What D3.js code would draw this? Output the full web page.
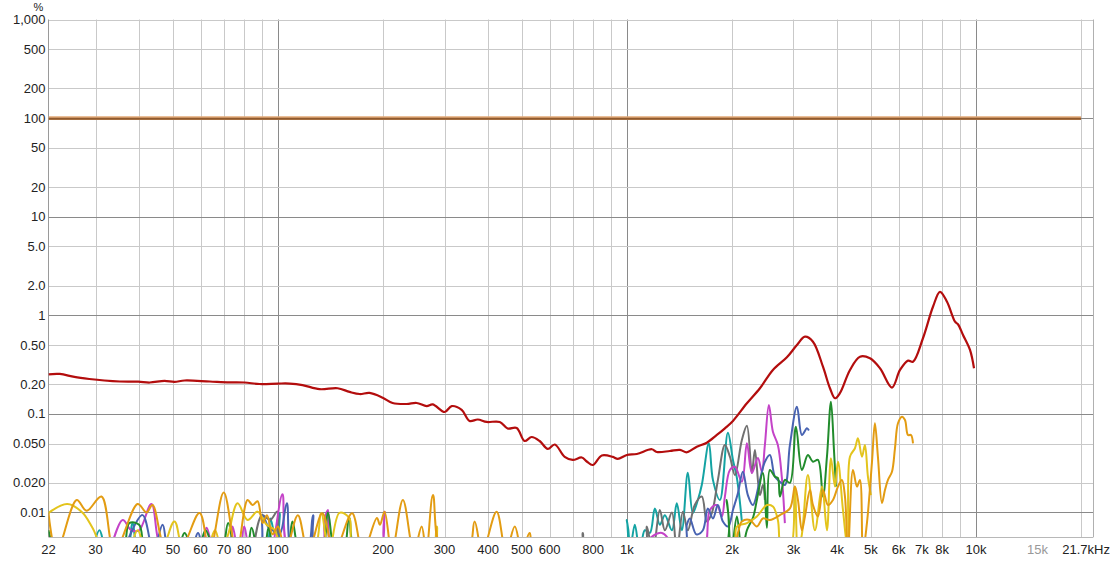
<!DOCTYPE html>
<html><head><meta charset="utf-8">
<script src="https://cdn.jsdelivr.net/npm/d3@7"></script>
<style>
html,body{margin:0;padding:0;background:#fff;}
svg{display:block;font-family:"Liberation Sans",Arial,Helvetica,sans-serif;}
</style></head>
<body><svg id="c" width="1117" height="562"></svg>
<script>
// ---- data ----
const xTickValues = [22,30,40,50,60,70,80,100,200,300,400,500,600,800,1000,2000,3000,4000,5000,6000,7000,8000,10000,15000,21700];
const xTickLabels = ["22","30","40","50","60","70","80","100","200","300","400","500","600","800","1k","2k","3k","4k","5k","6k","7k","8k","10k","15k","21.7kHz"];
const yTickValues = [1000,500,200,100,50,20,10,5,2,1,0.5,0.2,0.1,0.05,0.02,0.01];
const yTickLabels = ["1,000","500","200","100","50","20","10","5.0","2.0","1","0.50","0.20","0.1","0.050","0.020","0.01"];

const fundamental = [[22,100],[20000,100]];

const thd = [[22,0.252],[23.7,0.254],[26.1,0.237],[28.8,0.226],[31.8,0.218],[35.2,0.213],[39.8,0.212],[42.9,0.208],[47.3,0.216],[50.5,0.211],[54,0.218],[63.7,0.213],[72.6,0.209],[80.2,0.208],[88.5,0.201],[100,0.203],[108,0.203],[117.6,0.196],[131.6,0.178],[148.2,0.182],[160.4,0.167],[171.4,0.159],[183,0.163],[199.5,0.146],[213,0.129],[233.8,0.126],[249.7,0.129],[266.7,0.120],[277.5,0.125],[300.4,0.1045],[314.6,0.120],[336,0.1096],[354,0.0848],[373.6,0.0877],[396.3,0.0828],[431.9,0.0828],[455,0.0711],[483,0.0719],[509,0.0531],[533,0.0583],[562,0.0531],[593,0.0441],[621,0.0489],[663,0.0366],[699,0.0341],[742,0.0361],[767,0.0329],[798,0.0303],[847,0.0379],[911,0.0366],[941,0.0349],[999,0.0383],[1067,0.0392],[1178,0.0438],[1217,0.0411],[1327,0.0420],[1418,0.0431],[1485,0.0408],[1585,0.0465],[1693,0.0510],[1809,0.0611],[1908,0.0714],[2012,0.0848],[2206,0.128],[2404,0.182],[2619,0.279],[2872,0.375],[3069,0.500],[3236,0.607],[3411,0.540],[3644,0.301],[3816,0.182],[3945,0.144],[4074,0.162],[4355,0.279],[4652,0.380],[4969,0.366],[5309,0.290],[5744,0.185],[6058,0.279],[6389,0.347],[6600,0.338],[7048,0.585],[7530,1.22],[7887,1.73],[8260,1.37],[8710,0.861],[8880,0.811],[9181,0.631],[9613,0.445],[9871,0.290]];

const h3 = [[22,0.0099],[23.2,0.004],[26.5,0.0134],[28.3,0.0104],[31.2,0.0145],[34,0.004],[39.6,0.0122],[42,0.0100],[43.7,0.0119],[47.9,0.004],[52.2,0.004],[59.6,0.0099],[63.7,0.004],[69.9,0.0159],[76.1,0.004],[81.8,0.0134],[84.5,0.0119],[87.4,0.0130],[90.3,0.0078],[93,0.0094],[96.5,0.0060],[100,0.0072],[105,0.004],[114,0.0094],[122,0.004],[134,0.0098],[145,0.004],[163,0.0098],[175,0.004],[192,0.0088],[196,0.0075],[202,0.0102],[212,0.004],[228,0.0134],[245,0.004],[258,0.0072],[266,0.004],[278,0.0150],[295,0.004],[350,0.004],[366,0.0081],[385,0.004],[423,0.0102],[450,0.004],[477,0.0072],[500,0.004],[526,0.0062],[545,0.004],[2000,0.004],[2079,0.0062],[2134,0.0081],[2250,0.0084],[2356,0.0072],[2451,0.0087],[2567,0.0084],[2743,0.0094],[2930,0.0110],[3028,0.0183],[3089,0.0134],[3171,0.0066],[3235,0.0091],[3344,0.0169],[3411,0.0119],[3525,0.0091],[3643,0.0169],[3766,0.0119],[3892,0.0134],[4023,0.0183],[4130,0.0214],[4213,0.0145],[4297,0.004],[4441,0.0270],[4560,0.0183],[4651,0.0214],[4744,0.004],[4870,0.0078],[5033,0.0318],[5133,0.0803],[5236,0.0368],[5377,0.0125],[5485,0.0169],[5595,0.0214],[5745,0.0259],[5860,0.0448],[5977,0.0803],[6137,0.0937],[6260,0.0868],[6385,0.0611],[6513,0.0611],[6600,0.0503]];

const h4 = [[22,0.0099],[24.9,0.0122],[27.5,0.0100],[29.4,0.0070],[32,0.004],[37,0.004],[39.6,0.0066],[42,0.004],[46,0.004],[50.5,0.0081],[54,0.004],[62,0.004],[66,0.0066],[69,0.004],[72,0.006],[76.6,0.0124],[81.8,0.0084],[87.4,0.0102],[92.8,0.0075],[98,0.0066],[103,0.004],[126,0.004],[133,0.0098],[140,0.004],[150,0.0099],[160,0.0088],[166,0.004],[275,0.004],[285,0.0072],[295,0.004],[1990,0.004],[2065,0.0072],[2206,0.0078],[2356,0.0091],[2517,0.0119],[2619,0.0115],[2706,0.0084],[2779,0.004],[2930,0.004],[3028,0.0183],[3089,0.004],[3171,0.006],[3299,0.0240],[3456,0.0066],[3620,0.0183],[3741,0.0066],[3841,0.0355],[3944,0.0183],[4023,0.0327],[4158,0.0106],[4297,0.004],[4354,0.0368],[4500,0.0448],[4590,0.0566],[4713,0.0368],[4806,0.0484],[4902,0.0231],[5000,0.0150]];

const h5 = [[22,0.0066],[23.5,0.004],[35.5,0.004],[37.5,0.0078],[40,0.0075],[42,0.004],[51,0.004],[54,0.0062],[57,0.004],[59,0.004],[62,0.0066],[66,0.004],[69,0.004],[72,0.0078],[76,0.004],[81,0.004],[84,0.0070],[88,0.004],[91,0.004],[94,0.0070],[98,0.004],[106,0.004],[110,0.0081],[116,0.004],[133,0.004],[139,0.0100],[146,0.004],[154,0.004],[160,0.0088],[170,0.004],[1870,0.004],[1933,0.0134],[1990,0.004],[2065,0.0091],[2134,0.004],[2206,0.0066],[2300,0.0090],[2356,0.0134],[2451,0.0252],[2517,0.0070],[2567,0.0270],[2653,0.0231],[2706,0.0224],[2743,0.0145],[2834,0.0214],[2930,0.0200],[3048,0.0742],[3171,0.0270],[3299,0.0383],[3411,0.0327],[3525,0.0341],[3643,0.0145],[3741,0.0368],[3841,0.133],[3918,0.0430],[3969,0.0183]];

const h6 = [[36,0.004],[40.9,0.0094],[44,0.004],[46.7,0.0075],[49,0.004],[56,0.004],[59,0.0062],[62,0.004],[88,0.004],[90.3,0.0094],[94,0.0070],[96.5,0.0066],[101,0.0060],[106,0.0124],[110,0.004],[121,0.004],[126,0.0094],[131,0.004],[1440,0.004],[1484,0.0075],[1514,0.0087],[1580,0.006],[1650,0.0066],[1705,0.0110],[1763,0.0087],[1822,0.0119],[1883,0.0081],[1950,0.0072],[2012,0.0106],[2079,0.0157],[2148,0.0259],[2220,0.0150],[2295,0.0119],[2404,0.0214],[2484,0.0327],[2567,0.0383],[2653,0.0231],[2743,0.0205],[2834,0.0190],[2930,0.0484],[3069,0.118],[3171,0.0611],[3278,0.0714],[3321,0.0680]];

const h7 = [[33,0.004],[35.9,0.0084],[38,0.0066],[40,0.0066],[43.4,0.0122],[47,0.004],[60,0.004],[62.4,0.0070],[66,0.004],[72,0.004],[74.1,0.0072],[77,0.004],[78,0.004],[80,0.0072],[84,0.004],[96,0.004],[98,0.0060],[103,0.0153],[108,0.004],[133,0.004],[136,0.0085],[139,0.0106],[144,0.004],[195,0.004],[202,0.0102],[208,0.004],[1000,0.004],[1259,0.0062],[1400,0.004],[1650,0.004],[1728,0.0106],[1809,0.0119],[1870,0.0091],[1908,0.0145],[1972,0.0270],[2038,0.0291],[2134,0.0205],[2206,0.0503],[2280,0.0252],[2372,0.0357],[2435,0.0259],[2484,0.0484],[2550,0.123],[2619,0.0660],[2706,0.0484],[2779,0.0224],[2834,0.0078]];

const h8 = [[85,0.004],[90,0.0094],[95,0.0084],[99.7,0.0102],[104,0.004],[730,0.004],[747,0.0062],[765,0.004],[1120,0.004],[1140,0.0072],[1186,0.004],[1242,0.0106],[1284,0.0066],[1345,0.0100],[1389,0.004],[1446,0.0102],[1494,0.0066],[1564,0.0119],[1638,0.0145],[1694,0.0081],[1751,0.0099],[1822,0.0214],[1908,0.0484],[1972,0.0368],[2038,0.0240],[2134,0.0543],[2206,0.0759],[2280,0.0253],[2326,0.0430],[2404,0.0150],[2451,0.0190],[2484,0.0134]];

const h9 = [[29.5,0.004],[30.8,0.0066],[32.5,0.004],[36.8,0.004],[38.3,0.0078],[40.5,0.004],[91,0.004],[95,0.0087],[98,0.0060],[101,0.0099],[105,0.004],[986,0.004],[999,0.0084],[1019,0.004],[1053,0.0075],[1088,0.004],[1125,0.0066],[1163,0.0062],[1202,0.0110],[1242,0.0075],[1284,0.0094],[1345,0.0066],[1389,0.0124],[1436,0.0066],[1494,0.0253],[1544,0.0099],[1596,0.0134],[1638,0.0190],[1716,0.0503],[1763,0.0214],[1846,0.0134],[1946,0.0645],[2012,0.0341],[2065,0.0224],[2134,0.0081]];

const harmonics = [
  {name:"H9", data:h9, color:"#14a3a3"},
  {name:"H8", data:h8, color:"#707070"},
  {name:"H7", data:h7, color:"#c443c8"},
  {name:"H6", data:h6, color:"#4863b2"},
  {name:"H5", data:h5, color:"#218c2c"},
  {name:"H4", data:h4, color:"#e3c41c"},
  {name:"H3", data:h3, color:"#e39c12"}
];

// ---- layout ----
const L = 48.5, R = 1093.4, T = 19.5, B = 537;
const svg = d3.select("#c");
const x = d3.scaleLog().domain([22, 21700]).range([L, R]);
const y = d3.scaleLog().domain([0.00564, 1000]).range([B, T]);

// grid
const xMinor = [];
for (let d = 10; d <= 10000; d *= 10) for (let m = 1; m <= 9; m++) { const v = d*m; if (v > 22 && v <= 20000) xMinor.push(v); }
const gGrid = svg.append("g");
gGrid.selectAll("line.xg").data(xMinor).join("line")
  .attr("x1", d => Math.round(x(d))+0.5).attr("x2", d => Math.round(x(d))+0.5)
  .attr("y1", T).attr("y2", B)
  .attr("stroke", d => (d===100||d===1000||d===10000) ? "#8a8a8a" : "#c9c9c9").attr("stroke-width", 1);
const yGrid = [];
for (let d = 0.01; d <= 1000; d *= 10) { yGrid.push(d, 2*d, 5*d); }
gGrid.selectAll("line.yg").data(yGrid.filter(v => v <= 1000.1)).join("line")
  .attr("x1", L).attr("x2", R)
  .attr("y1", d => Math.round(y(d))+0.5).attr("y2", d => Math.round(y(d))+0.5)
  .attr("stroke", d => { const l = Math.log10(d); return (Math.abs(l-Math.round(l))<1e-6 && d < 999) ? "#8a8a8a" : "#c9c9c9"; })
  .attr("stroke-width", 1);
// frame
svg.append("line").attr("x1", L).attr("x2", L).attr("y1", T).attr("y2", B).attr("stroke", "#9a9a9a");
svg.append("line").attr("x1", Math.round(R)+0.5).attr("x2", Math.round(R)+0.5).attr("y1", T).attr("y2", B).attr("stroke", "#b0b0b0");
svg.append("line").attr("x1", L).attr("x2", R).attr("y1", B+0.5).attr("y2", B+0.5).attr("stroke", "#b8b8b8");

// clip
svg.append("defs").append("clipPath").attr("id", "clip")
  .append("rect").attr("x", L).attr("y", T - 2).attr("width", R - L).attr("height", B - T + 2);
const plot = svg.append("g").attr("clip-path", "url(#clip)");

const line = d3.line().x(d => x(d[0])).y(d => y(d[1])).curve(d3.curveCatmullRom.alpha(0.5));

harmonics.forEach(h => {
  plot.append("path").attr("d", line(h.data)).attr("fill", "none")
    .attr("stroke", h.color).attr("stroke-width", 2).attr("stroke-linejoin", "round");
});

// fundamental (100%)
const flat = d3.line().x(d => x(d[0])).y(d => y(d[1]));
plot.append("path").attr("d", flat(fundamental)).attr("fill", "none").attr("stroke", "#e2aa78").attr("stroke-width", 3.6);
plot.append("path").attr("d", flat(fundamental)).attr("fill", "none").attr("stroke", "#8f5a2e").attr("stroke-width", 2).attr("transform", "translate(0,0.7)");

// THD
plot.append("path").attr("d", line(thd)).attr("fill", "none")
  .attr("stroke", "#b30d0d").attr("stroke-width", 2.2).attr("stroke-linejoin", "round");

// axes labels
const gx = svg.append("g");
xTickValues.forEach((v, i) => {
  const last = i === xTickValues.length - 1;
  gx.append("text").attr("x", last ? 1110 : x(v)).attr("y", 554)
    .attr("text-anchor", last ? "end" : "middle")
    .attr("font-size", 13).attr("fill", v === 15000 ? "#999" : "#222")
    .text(xTickLabels[i]);
});
const gy = svg.append("g");
yTickValues.forEach((v, i) => {
  gy.append("text").attr("x", 45.5).attr("y", y(v) + 4.6)
    .attr("text-anchor", "end").attr("font-size", 13).attr("fill", "#222")
    .text(yTickLabels[i]);
});
svg.append("text").attr("x", 38.5).attr("y", 11).attr("text-anchor", "middle")
  .attr("font-size", 11).attr("fill", "#222").text("%");
</script>
</body></html>
